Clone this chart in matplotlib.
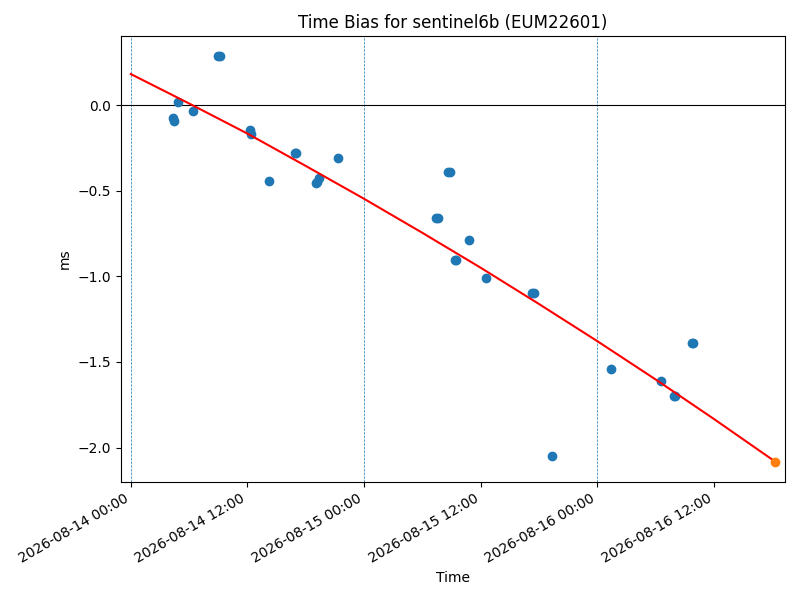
import numpy as np
import pandas as pd
import matplotlib
matplotlib.use("Agg")
import matplotlib.pyplot as plt
import matplotlib.dates as mdates

start = pd.Timestamp("2026-08-14 00:00")

# observation times (hours after 2026-08-14 00:00) and time bias (ms)
obs_hours = [4.32, 4.42, 4.84, 6.38, 8.95, 9.15, 12.24, 12.35, 14.2, 16.93, 17.03,
             19.03, 19.2, 19.34, 21.3, 31.45, 31.6, 32.65, 32.8, 33.35, 33.5, 34.8,
             36.6, 41.3, 41.5, 43.3, 49.4, 54.6, 55.85, 56.0, 57.75, 57.9]
obs_bias = [-0.076, -0.094, 0.018, -0.035, 0.287, 0.287, -0.146, -0.170, -0.444, -0.281, -0.281,
            -0.456, -0.448, -0.427, -0.310, -0.661, -0.661, -0.392, -0.392, -0.906, -0.906, -0.789,
            -1.012, -1.094, -1.094, -2.047, -1.544, -1.614, -1.696, -1.696, -1.392, -1.392]

# fitted curve (hours, ms)
fit_hours = [0, 6, 12, 18, 24, 30, 36, 42, 48, 54, 60, 66.3]
fit_bias = [0.183, 0.011, -0.165, -0.354, -0.546, -0.745, -0.949, -1.161, -1.378, -1.602, -1.833, -2.082]

# predicted point
pred_hours = [66.3]
pred_bias = [-2.082]

midnight_hours = [0, 24, 48]

def to_time(h):
    return [start + pd.Timedelta(hours=x) for x in h]

fig = plt.figure(figsize=(8, 6), dpi=100)
ax = fig.add_axes([0.151, 0.197, 0.830, 0.743])

for h in to_time(midnight_hours):
    ax.axvline(h, color="C0", linestyle="--", linewidth=0.5)
ax.axhline(0, color="black", linewidth=0.8)

ax.plot(to_time(obs_hours), obs_bias, "o", color="C0")
ax.plot(to_time(fit_hours), fit_bias, "-", color="red")
ax.plot(to_time(pred_hours), pred_bias, "o", color="C1")

ax.set_xlim(start - pd.Timedelta(hours=1.03), start + pd.Timedelta(hours=67.3))
ax.xaxis.set_major_locator(mdates.HourLocator(byhour=[0, 12]))
ax.xaxis.set_major_formatter(mdates.DateFormatter("%Y-%m-%d %H:%M"))
for lbl in ax.get_xticklabels():
    lbl.set_rotation(30)
    lbl.set_ha("right")

ax.set_title("Time Bias for sentinel6b (EUM22601)")
ax.set_xlabel("Time")
ax.set_ylabel("ms")

fig.savefig("out.png", dpi=100)
